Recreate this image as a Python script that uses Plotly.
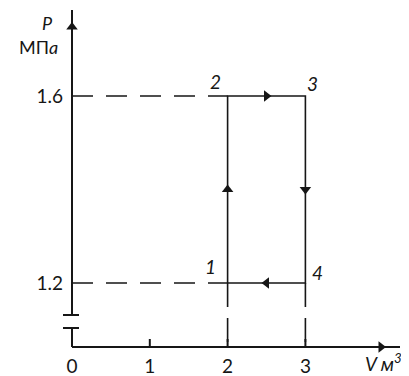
import plotly.graph_objects as go

# state points of the cycle 1-2-3-4 (V in m^3, P in MPa)
states = ["1", "2", "3", "4"]
volume = [2, 2, 3, 3]
pressure = [1.2, 1.6, 1.6, 1.2]

x_ticks = [0, 1, 2, 3]
y_ticks = [1.2, 1.6]

# --- picture geometry (window pixels -> axis units) ---
WIN_W, WIN_H = 409, 376
OFF = 8                         # page body margin of the html page
W, H = WIN_W - OFF, WIN_H - OFF
X0_PX, PX_PER_V = 72, 77.8      # V = 0 at x=72px
Y0_PX, PX_PER_P = 347, 467.5    # V axis drawn at y=347px
P_AXIS = 1.063                  # pressure at which the (broken) V axis sits

def px_v(n):
    return n / PX_PER_V

def px_p(n):
    return n / PX_PER_P

INK = "#161616"
FONT = "Lato"

fig = go.Figure()

def line(xs, ys, dash="solid", width=1.6):
    fig.add_trace(go.Scatter(x=xs, y=ys, mode="lines",
                             line=dict(color=INK, width=width, dash=dash),
                             hoverinfo="skip"))

def arrow(x, y, symbol):
    fig.add_trace(go.Scatter(x=[x], y=[y], mode="markers",
                             marker=dict(symbol=symbol, size=10, color=INK),
                             hoverinfo="skip"))

# --- axes with arrows and the break on P ---
x_end = px_v(400 - X0_PX)
line([0, x_end], [P_AXIS, P_AXIS], width=2)
arrow(px_v(381 - X0_PX), P_AXIS, "triangle-right")

brk_lo, brk_hi = P_AXIS + px_p(19), P_AXIS + px_p(32)
line([0, 0], [P_AXIS, brk_lo], width=2)
line([0, 0], [brk_hi, P_AXIS + px_p(337)], width=2)
arrow(0, P_AXIS + px_p(320), "triangle-up")
for yb in (brk_lo, brk_hi):
    line([px_v(-9), px_v(7)], [yb, yb], width=2)

# small tick marks on the V axis
for t in x_ticks[1:]:
    line([t, t], [P_AXIS, P_AXIS + px_p(8)], width=2)

# --- dashed projection lines ---
for p in sorted(set(pressure)):
    line([0, min(volume)], [p, p], dash="21px,13px")
for v in sorted(set(volume)):
    line([v, v], [min(pressure), P_AXIS], dash="24px,11px")

# --- cycle ---
cyc_x = volume + volume[:1]
cyc_y = pressure + pressure[:1]
line(cyc_x, cyc_y, width=1.6)

symbols = {(0, 1): "triangle-up", (0, -1): "triangle-down",
           (1, 0): "triangle-right", (-1, 0): "triangle-left"}
for i in range(len(volume)):
    x1, y1, x2, y2 = cyc_x[i], cyc_y[i], cyc_x[i + 1], cyc_y[i + 1]
    d = ((x2 > x1) - (x2 < x1), (y2 > y1) - (y2 < y1))
    arrow((x1 + x2) / 2, (y1 + y2) / 2, symbols[d])

# --- point labels ---
shifts = {"1": (-17, 16), "2": (-12, 14), "3": (7, 12), "4": (12, 10)}
for s, v, p in zip(states, volume, pressure):
    dx, dy = shifts[s]
    fig.add_annotation(x=v, y=p, text=f"<i>{s}</i>", showarrow=False,
                       xshift=dx, yshift=dy,
                       font=dict(family=FONT, size=19, color=INK))

# --- axis titles ---
fig.add_annotation(x=px_v(47 - X0_PX), y=P_AXIS + px_p(Y0_PX - 23),
                   text="<i>P</i>", showarrow=False,
                   font=dict(family=FONT, size=18, color=INK))
fig.add_annotation(x=px_v(38 - X0_PX), y=P_AXIS + px_p(Y0_PX - 47),
                   text="МП<i>а</i>", showarrow=False,
                   font=dict(family=FONT, size=18, color=INK))
fig.add_annotation(x=px_v(364 - X0_PX), y=P_AXIS - px_p(WIN_H - Y0_PX),
                   xanchor="left", yanchor="bottom", borderpad=0,
                   text="<i>V м<sup>3</sup></i>", showarrow=False,
                   font=dict(family=FONT, size=19, color=INK))

fig.update_layout(
    width=W, height=H,
    margin=dict(l=0, r=0, t=0, b=0),
    paper_bgcolor="white", plot_bgcolor="white",
    showlegend=False,
    xaxis=dict(range=[px_v(OFF - X0_PX), px_v(WIN_W - X0_PX)], tickvals=x_ticks,
               anchor="free", position=(WIN_H - Y0_PX) / H,
               showgrid=False, zeroline=False, showline=False, ticks="",
               ticklabelstandoff=6,
               tickfont=dict(family=FONT, size=19, color=INK)),
    yaxis=dict(range=[P_AXIS - px_p(WIN_H - Y0_PX), P_AXIS + px_p(Y0_PX - OFF)],
               tickvals=y_ticks, tickformat=".1f",
               anchor="free", position=(X0_PX - OFF) / W,
               showgrid=False, zeroline=False, showline=False, ticks="",
               ticklabelstandoff=9,
               tickfont=dict(family=FONT, size=19, color=INK)),
)

fig.write_html("out.html")
